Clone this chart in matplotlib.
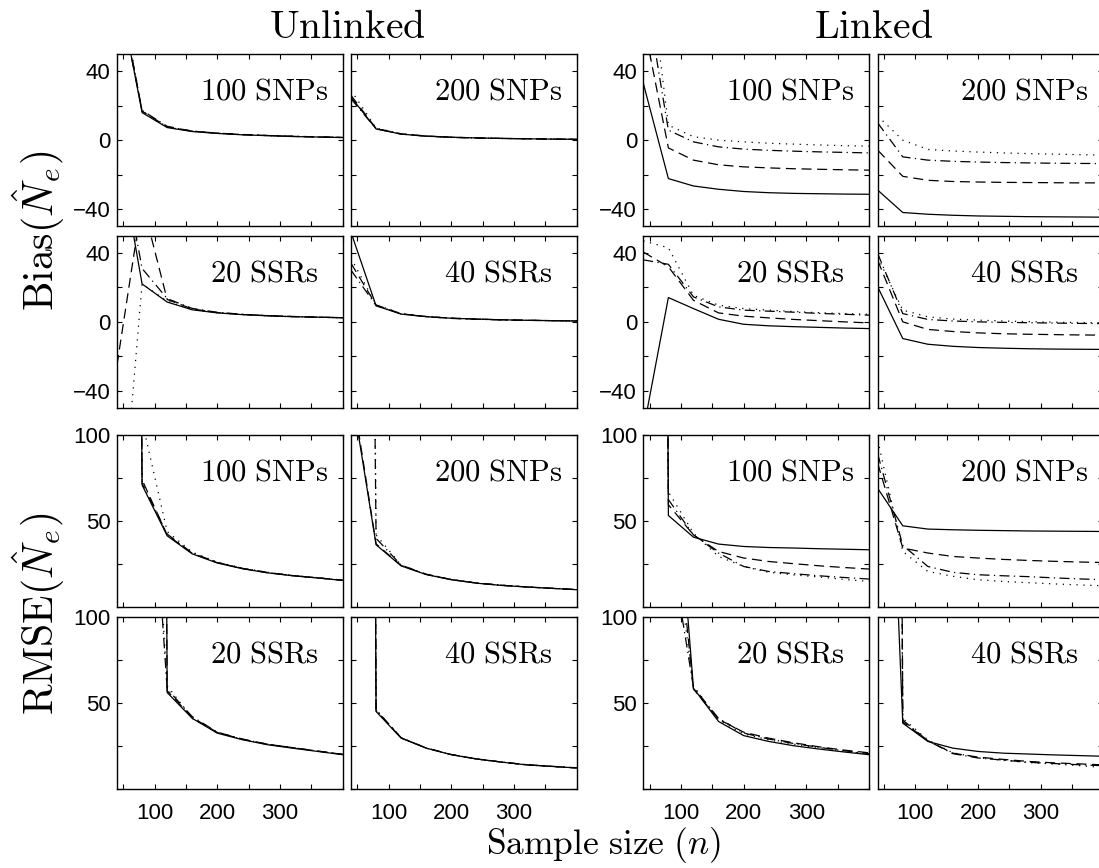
import matplotlib
matplotlib.use("Agg")
import matplotlib.pyplot as plt

plt.rcParams['mathtext.fontset'] = 'cm'
plt.rcParams['font.family'] = ['Liberation Sans', 'DejaVu Sans']

# sample sizes (n)
n = [40, 80, 120, 160, 200, 240, 280, 320, 360, 400]

# each panel: [solid, dashed, dash-dot, dotted]
# Bias, unlinked
bias_unl_100snp = [
    [92, 16.0, 7.3, 5.0, 3.9, 3.1, 2.6, 2.1, 1.8, 1.5],
    [95, 16.8, 7.8, 5.3, 4.0, 3.2, 2.7, 2.2, 1.9, 1.6],
    [90, 17.3, 8.0, 5.2, 4.1, 3.3, 2.7, 2.3, 1.9, 1.6],
    [97, 17.0, 7.6, 5.1, 4.0, 3.2, 2.6, 2.2, 1.8, 1.5],
]
bias_unl_200snp = [
    [25, 6.5, 3.5, 2.3, 1.7, 1.3, 1.0, 0.8, 0.6, 0.5],
    [26, 6.8, 3.6, 2.4, 1.7, 1.3, 1.0, 0.8, 0.6, 0.5],
    [24, 6.6, 3.5, 2.3, 1.6, 1.2, 1.0, 0.8, 0.6, 0.5],
    [29, 7.0, 3.7, 2.4, 1.7, 1.3, 1.0, 0.8, 0.6, 0.5],
]
bias_unl_20ssr = [
    [105, 22, 11.5, 7.0, 5.2, 4.2, 3.5, 3.0, 2.7, 2.4],
    [-25, 70, 13, 7.5, 5.4, 4.3, 3.6, 3.1, 2.7, 2.4],
    [110, 31, 13.5, 7.8, 5.5, 4.4, 3.6, 3.1, 2.7, 2.4],
    [-150, 22, 12, 7.2, 5.3, 4.2, 3.5, 3.0, 2.7, 2.4],
]
bias_unl_40ssr = [
    [52, 9.3, 4.5, 3.0, 2.1, 1.6, 1.2, 0.9, 0.7, 0.5],
    [34, 9.8, 4.7, 3.1, 2.1, 1.6, 1.2, 0.9, 0.7, 0.5],
    [30, 9.5, 4.6, 3.0, 2.0, 1.5, 1.1, 0.9, 0.7, 0.5],
    [37, 10.0, 4.8, 3.1, 2.2, 1.6, 1.2, 0.9, 0.7, 0.5],
]
# Bias, linked
bias_lnk_100snp = [
    [33, -22.3, -26.6, -28.5, -29.8, -30.5, -30.9, -31.1, -31.3, -31.4],
    [69, -4.5, -11.6, -14.3, -15.5, -16.1, -16.6, -16.9, -17.2, -17.4],
    [94, 5.8, -1.0, -3.9, -5.2, -5.9, -6.4, -6.8, -7.1, -7.4],
    [127, 8.7, 2.0, 0.0, -1.0, -1.8, -2.3, -2.8, -3.2, -3.5],
]
bias_lnk_200snp = [
    [-29, -42, -43, -43.6, -44.0, -44.2, -44.4, -44.5, -44.6, -44.7],
    [-5.8, -21, -23.3, -24.0, -24.3, -24.5, -24.6, -24.7, -24.8, -24.8],
    [10, -9.7, -11.6, -12.3, -12.7, -13.0, -13.2, -13.4, -13.5, -13.6],
    [14, 0, -5.4, -6.3, -6.9, -7.4, -7.8, -8.1, -8.4, -8.7],
]
bias_lnk_20ssr = [
    [-63, 14.1, 7.7, 1.5, -1.4, -2.3, -2.8, -3.2, -3.6, -3.9],
    [40.5, 32, 12.5, 5.2, 3.3, 2.3, 1.4, 0.7, 0.0, -0.6],
    [36, 33.4, 14.5, 8.7, 6.8, 6.2, 5.6, 4.9, 4.4, 3.9],
    [47, 43, 15.4, 9.7, 7.7, 6.8, 6.0, 5.3, 4.8, 4.4],
]
bias_lnk_40ssr = [
    [20.3, -9.7, -13, -14.2, -14.9, -15.3, -15.6, -15.8, -15.9, -16],
    [35.7, 0, -4.4, -5.6, -6.4, -6.9, -7.2, -7.4, -7.6, -7.7],
    [39.6, 4.8, 1.4, 0.5, 0, -0.3, -0.5, -0.7, -0.9, -1.0],
    [37.6, 6.8, 2.9, 1.6, 1.0, 0.5, 0.1, -0.2, -0.4, -0.6],
]
# RMSE, unlinked
rmse_unl_100snp = [
    [2000, 71, 41.5, 31, 25.7, 22.4, 20, 18.3, 17, 15.6],
    [2100, 74, 42, 31.3, 25.9, 22.5, 20.1, 18.4, 17.1, 15.7],
    [1900, 72, 42.5, 31.5, 26, 22.6, 20.2, 18.4, 17.1, 15.7],
    [600, 108, 44, 32, 26.2, 22.8, 20.3, 18.5, 17.2, 15.8],
]
rmse_unl_200snp = [
    [127, 36.3, 24, 19, 16, 14, 12.7, 11.8, 11, 10.2],
    [130, 36.8, 24.2, 19.1, 16.1, 14.1, 12.8, 11.8, 11, 10.3],
    [1500, 40, 24.5, 19.2, 16.1, 14.1, 12.8, 11.8, 11, 10.3],
    [2000, 42, 24.5, 19.2, 16.2, 14.1, 12.8, 11.9, 11.1, 10.3],
]
rmse_unl_20ssr = [
    [5000, 3000, 56, 41, 32.4, 28.6, 25.7, 23.7, 21.8, 19.9],
    [5000, 2500, 57, 41.5, 32.8, 28.9, 26, 24, 22, 20.1],
    [5000, 273, 58, 42, 33, 29, 26, 24, 22, 20.2],
    [5000, 300, 60, 41, 32.6, 28.8, 25.9, 23.9, 21.9, 20],
]
rmse_unl_40ssr = [
    [3000, 45, 29.5, 23.7, 19.9, 17.4, 15.6, 14, 13.1, 12.2],
    [3000, 45.5, 29.7, 23.8, 20, 17.5, 15.6, 14.1, 13.1, 12.2],
    [3000, 46, 29.8, 23.8, 20, 17.5, 15.7, 14.1, 13.2, 12.3],
    [3000, 46, 29.6, 23.7, 19.9, 17.4, 15.6, 14, 13.1, 12.2],
]
# RMSE, linked
rmse_lnk_100snp = [
    [3000, 53.3, 40.7, 36.7, 35.3, 34.7, 34.4, 34.0, 33.7, 33.4],
    [2500, 59.5, 42, 32.4, 28.6, 26.6, 25.3, 24.1, 23.1, 22.2],
    [2000, 62.5, 42, 31.5, 23.7, 20.8, 19.5, 18.3, 17.3, 16.4],
    [1800, 67, 43, 29.5, 23.7, 20.3, 18.8, 17.6, 16.2, 15],
]
rmse_lnk_200snp = [
    [69, 47.3, 45.4, 45, 44.7, 44.5, 44.3, 44.2, 44.1, 44],
    [83.6, 34.4, 31.5, 29.5, 28.6, 27.8, 27.2, 26.7, 26.3, 26],
    [89, 36, 23.7, 20.3, 18.9, 18.3, 17.8, 17.1, 16.5, 16],
    [97, 32.4, 20.8, 18, 16, 15, 14.3, 13.6, 13, 12.5],
]
rmse_lnk_20ssr = [
    [4000, 243, 58.5, 39.2, 31, 27.6, 25.1, 23.2, 21.5, 19.9],
    [3500, 200, 58, 40.5, 33, 29.5, 26.8, 24.5, 22.6, 21],
    [3000, 149, 59, 41, 32.5, 29, 26.4, 24.2, 22.2, 20.5],
    [3000, 170, 60, 40, 32, 28.5, 26, 24, 22, 20.3],
]
rmse_lnk_40ssr = [
    [393, 38.2, 27.6, 23.7, 21.8, 20.8, 20.3, 19.8, 19.4, 19],
    [3000, 39, 28, 20.8, 18.5, 17.2, 16, 15.2, 14.6, 14],
    [2500, 40, 28, 20.5, 18, 16.8, 15.5, 14.8, 14.1, 13.5],
    [2000, 41, 28.5, 21, 18.2, 16.6, 15.4, 14.5, 13.6, 12.5],
]

panels = [
    [bias_unl_100snp, bias_unl_200snp, bias_lnk_100snp, bias_lnk_200snp],
    [bias_unl_20ssr, bias_unl_40ssr, bias_lnk_20ssr, bias_lnk_40ssr],
    [rmse_unl_100snp, rmse_unl_200snp, rmse_lnk_100snp, rmse_lnk_200snp],
    [rmse_unl_20ssr, rmse_unl_40ssr, rmse_lnk_20ssr, rmse_lnk_40ssr],
]
row_labels = [["100 SNPs", "200 SNPs"], ["20 SSRs", "40 SSRs"],
              ["100 SNPs", "200 SNPs"], ["20 SSRs", "40 SSRs"]]
styles = ['-', (0, (8, 4.5)), (0, (8, 3.5, 1, 3.5)), (0, (1, 4.5))]

W, H = 1099, 868
fig = plt.figure(figsize=(W / 100, H / 100), dpi=100)

col_left = [117, 351, 643.3, 877.7]
row_top = [54, 235.7, 435, 616.7]
aw, ah = 225.7, 172.3

for r in range(4):
    for c in range(4):
        ax = fig.add_axes([col_left[c] / W, 1 - (row_top[r] + ah) / H, aw / W, ah / H])
        for series, ls in zip(panels[r][c], styles):
            ax.plot(n, series, color='black', lw=0.9, linestyle=ls)
        ax.set_xlim(40, 400)
        ax.set_xticks(range(50, 401, 50))
        if r == 3:
            ax.set_xticklabels(['', '100', '', '200', '', '300', '', ''])
        else:
            ax.set_xticklabels([])
        if r < 2:
            ax.set_ylim(-50, 50)
            ax.set_yticks([-40, -20, 0, 20, 40])
            ylabs = ['\u221240', '', '0', '', '40']
        else:
            ax.set_ylim(0, 100)
            ax.set_yticks([0, 25, 50, 75, 100])
            ylabs = ['', '', '50', '', '100']
        if c in (0, 2):
            ax.set_yticklabels(ylabs)
        else:
            ax.set_yticklabels([])
        ax.tick_params(direction='in', top=True, right=True, length=3.8, width=0.8,
                       labelsize=16)
        ax.tick_params(axis='x', pad=10)
        ax.tick_params(axis='y', pad=4.5)
        for s in ax.spines.values():
            s.set_linewidth(1.0)
        lab = row_labels[r][c % 2]
        ax.text(147 / aw, 1 - 46 / ah, r'$\mathrm{%s}$' % lab.replace(' ', r'\ '),
                transform=ax.transAxes, ha='center', va='baseline', fontsize=22)

fig.text(347 / W, 1 - 38 / H, r'$\mathrm{Unlinked}$', ha='center', va='baseline', fontsize=28.5)
fig.text(873.5 / W, 1 - 38 / H, r'$\mathrm{Linked}$', ha='center', va='baseline', fontsize=28.5)
fig.text(39 / W, 1 - 231 / H, r'$\mathrm{Bias}(\hat{N}_e)$', rotation=90,
         ha='center', va='center', fontsize=30)
fig.text(39 / W, 1 - 614 / H, r'$\mathrm{RMSE}(\hat{N}_e)$', rotation=90,
         ha='center', va='center', fontsize=30)
fig.text(604 / W, 1 - 854 / H, r'$\mathrm{Sample\ size}\ (n)$', ha='center',
         va='baseline', fontsize=25.5)

fig.savefig('out.png', dpi=100)
